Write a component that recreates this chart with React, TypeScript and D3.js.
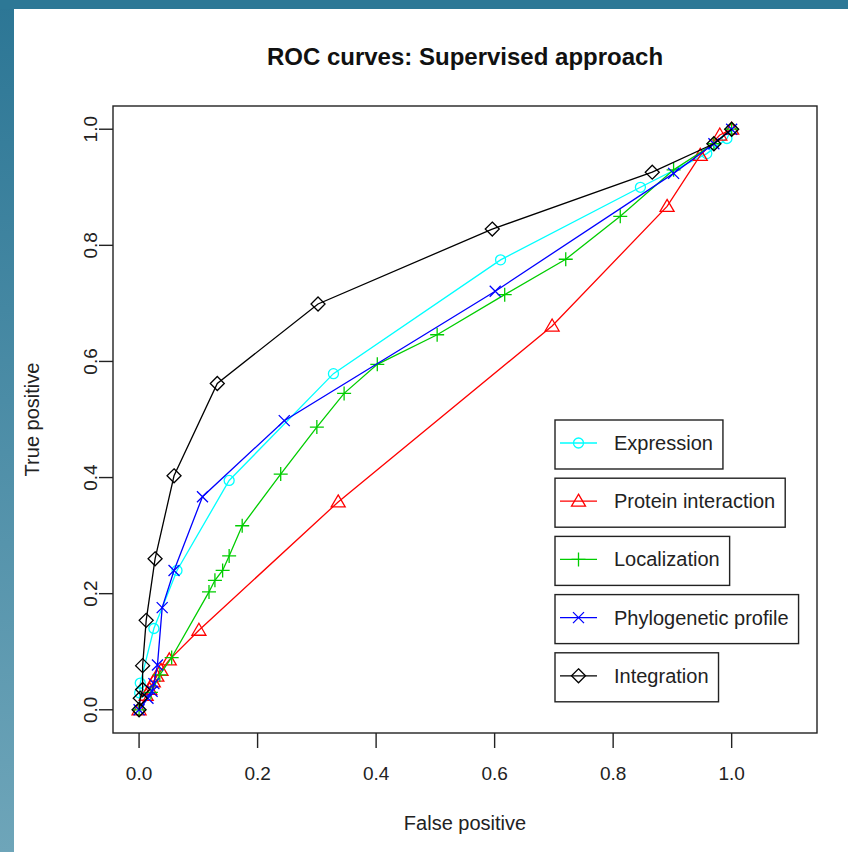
import React, { useEffect, useRef } from "react";
import * as d3 from "d3";

// series in plotting order
const seriesNames = ["Expression", "Protein interaction", "Localization", "Phylogenetic profile", "Integration"];
const seriesColors = ["#00ffff", "#ff0000", "#00cd00", "#0000ff", "#000000"];
const seriesShapes = ["circle", "triangle", "plus", "cross", "diamond"];

// false positive / true positive rates
const expressionFP = [0, 0.001, 0.002, 0.025, 0.064, 0.152, 0.328, 0.61, 0.846, 0.958, 0.992, 1];
const expressionTP = [0, 0.029, 0.046, 0.14, 0.24, 0.395, 0.579, 0.775, 0.9, 0.958, 0.984, 1];

const proteinFP = [0, 0.012, 0.018, 0.024, 0.03, 0.037, 0.051, 0.101, 0.336, 0.697, 0.891, 0.947, 0.98, 1];
const proteinTP = [0, 0.025, 0.035, 0.048, 0.058, 0.068, 0.086, 0.137, 0.358, 0.661, 0.867, 0.955, 0.99, 1];

const localizationFP = [0, 0.02, 0.035, 0.055, 0.118, 0.128, 0.141, 0.152, 0.174, 0.239, 0.3, 0.346, 0.402, 0.503, 0.617, 0.72, 0.812, 0.902, 0.97, 1];
const localizationTP = [0, 0.03, 0.06, 0.09, 0.203, 0.223, 0.24, 0.265, 0.317, 0.406, 0.487, 0.545, 0.595, 0.646, 0.715, 0.776, 0.85, 0.93, 0.975, 1];

const phyloFP = [0, 0.015, 0.022, 0.025, 0.031, 0.039, 0.059, 0.107, 0.245, 0.601, 0.902, 0.97, 1];
const phyloTP = [0, 0.02, 0.032, 0.045, 0.077, 0.176, 0.24, 0.367, 0.498, 0.721, 0.924, 0.975, 1];

const integrationFP = [0, 0.002, 0.006, 0.006, 0.012, 0.027, 0.059, 0.132, 0.302, 0.596, 0.866, 0.97, 1];
const integrationTP = [0, 0.02, 0.035, 0.076, 0.154, 0.26, 0.403, 0.562, 0.699, 0.828, 0.926, 0.975, 1];

const allFP = [expressionFP, proteinFP, localizationFP, phyloFP, integrationFP];
const allTP = [expressionTP, proteinTP, localizationTP, phyloTP, integrationTP];

const ticks = [0, 0.2, 0.4, 0.6, 0.8, 1.0];

const FONT = "'Liberation Sans', Arial, Helvetica, sans-serif";

function symbolPath(shape: string, x: number, y: number) {
  const p = d3.path();
  if (shape === "circle") {
    p.moveTo(x + 5, y);
    p.arc(x, y, 5, 0, Math.PI * 2);
  } else if (shape === "triangle") {
    p.moveTo(x, y - 7);
    p.lineTo(x + 7, y + 5);
    p.lineTo(x - 7, y + 5);
    p.closePath();
  } else if (shape === "plus") {
    p.moveTo(x - 7, y); p.lineTo(x + 7, y);
    p.moveTo(x, y - 7); p.lineTo(x, y + 7);
  } else if (shape === "cross") {
    p.moveTo(x - 5.5, y - 5.5); p.lineTo(x + 5.5, y + 5.5);
    p.moveTo(x - 5.5, y + 5.5); p.lineTo(x + 5.5, y - 5.5);
  } else {
    p.moveTo(x, y - 7);
    p.lineTo(x + 7, y);
    p.lineTo(x, y + 7);
    p.lineTo(x - 7, y);
    p.closePath();
  }
  return p.toString();
}

export default function App() {
  const ref = useRef<SVGSVGElement>(null);

  useEffect(() => {
    const svg = d3.select(ref.current);
    svg.selectAll("*").remove();

    const W = 848, H = 852;
    const box = { left: 113, right: 817, top: 106, bottom: 733 };

    // frame: blue gradient band on top and left
    const defs = svg.append("defs");
    const grad = defs.append("linearGradient")
      .attr("id", "sideGrad")
      .attr("x1", 0).attr("y1", 0).attr("x2", 0).attr("y2", 1);
    grad.append("stop").attr("offset", "0%").attr("stop-color", "#2c7695");
    grad.append("stop").attr("offset", "100%").attr("stop-color", "#6ea5b9");

    svg.append("rect").attr("width", W).attr("height", H).attr("fill", "#ffffff");
    svg.append("rect").attr("x", 0).attr("y", 0).attr("width", 14).attr("height", H).attr("fill", "url(#sideGrad)");
    svg.append("rect").attr("x", 0).attr("y", 0).attr("width", W).attr("height", 9).attr("fill", "#2d7896");

    const x = d3.scaleLinear().domain([-0.044, 1.144]).range([box.left, box.right]);
    const y = d3.scaleLinear().domain([-0.04, 1.04]).range([box.bottom, box.top]);

    // box
    svg.append("rect")
      .attr("x", box.left).attr("y", box.top)
      .attr("width", box.right - box.left).attr("height", box.bottom - box.top)
      .attr("fill", "none").attr("stroke", "#222").attr("stroke-width", 1.4);

    // axes
    const xAxis = svg.append("g").attr("transform", `translate(0, ${box.bottom})`);
    xAxis.selectAll(".tick").data(ticks).join("line")
      .attr("x1", d => x(d)).attr("x2", d => x(d))
      .attr("y1", 0).attr("y2", 15)
      .attr("stroke", "#222").attr("stroke-width", 1.4);
    xAxis.selectAll(".lab").data(ticks).join("text")
      .attr("x", d => x(d)).attr("y", 40)
      .attr("text-anchor", "middle").attr("dominant-baseline", "central")
      .style("font-family", FONT).style("font-size", "19px").attr("fill", "#222")
      .text(d => d.toFixed(1));

    const yAxis = svg.append("g").attr("transform", `translate(${box.left}, 0)`);
    yAxis.selectAll(".tick").data(ticks).join("line")
      .attr("y1", d => y(d)).attr("y2", d => y(d))
      .attr("x1", 0).attr("x2", -14)
      .attr("stroke", "#222").attr("stroke-width", 1.4);
    yAxis.selectAll(".lab").data(ticks).join("text")
      .attr("transform", d => `translate(-23, ${y(d)}) rotate(-90)`)
      .attr("text-anchor", "middle").attr("dominant-baseline", "central")
      .style("font-family", FONT).style("font-size", "19px").attr("fill", "#222")
      .text(d => d.toFixed(1));

    // titles
    svg.append("text")
      .attr("x", (box.left + box.right) / 2).attr("y", 56)
      .attr("text-anchor", "middle").attr("dominant-baseline", "central")
      .style("font-family", FONT).style("font-size", "24px").style("font-weight", "bold")
      .attr("fill", "#111")
      .text("ROC curves: Supervised approach");

    svg.append("text")
      .attr("x", (box.left + box.right) / 2).attr("y", 823)
      .attr("text-anchor", "middle").attr("dominant-baseline", "central")
      .style("font-family", FONT).style("font-size", "20px").attr("fill", "#222")
      .text("False positive");

    svg.append("text")
      .attr("transform", `translate(32, ${(box.top + box.bottom) / 2}) rotate(-90)`)
      .attr("text-anchor", "middle").attr("dominant-baseline", "central")
      .style("font-family", FONT).style("font-size", "20px").attr("fill", "#222")
      .text("True positive");

    // curves
    const line = d3.line<[number, number]>().x(d => x(d[0])).y(d => y(d[1]));
    seriesNames.forEach((name, i) => {
      const pts: [number, number][] = allFP[i].map((fp, j) => [fp, allTP[i][j]]);
      const g = svg.append("g").attr("class", "series");
      g.append("path")
        .attr("d", line(pts))
        .attr("fill", "none")
        .attr("stroke", seriesColors[i])
        .attr("stroke-width", 1.3);
      g.selectAll("path.sym").data(pts).join("path")
        .attr("class", "sym")
        .attr("d", d => symbolPath(seriesShapes[i], x(d[0]), y(d[1])))
        .attr("fill", "none")
        .attr("stroke", seriesColors[i])
        .attr("stroke-width", 1.3);
    });

    // legends, one box each
    const legTop = 420, legStep = 58.2, legH = 49, legX = 555;
    seriesNames.forEach((name, i) => {
      const g = svg.append("g").attr("transform", `translate(${legX}, ${legTop + i * legStep})`);
      const rect = g.append("rect")
        .attr("x", 0).attr("y", 0).attr("height", legH)
        .attr("fill", "#fff").attr("stroke", "#222").attr("stroke-width", 1.4);
      g.append("line")
        .attr("x1", 5).attr("x2", 42).attr("y1", 23).attr("y2", 23)
        .attr("stroke", seriesColors[i]).attr("stroke-width", 1.3);
      g.append("path")
        .attr("d", symbolPath(seriesShapes[i], 23.5, 23))
        .attr("fill", "none").attr("stroke", seriesColors[i]).attr("stroke-width", 1.3);
      const t = g.append("text")
        .attr("x", 59).attr("y", 23)
        .attr("dominant-baseline", "central")
        .style("font-family", FONT).style("font-size", "20px").attr("fill", "#222")
        .text(name);
      const tw = (t.node() as SVGTextElement).getComputedTextLength();
      rect.attr("width", 59 + tw + 10);
    });
  }, []);

  return (
    <svg
      ref={ref}
      width={848}
      height={852}
      style={{ position: "absolute", left: 0, top: 0, display: "block" }}
    />
  );
}
